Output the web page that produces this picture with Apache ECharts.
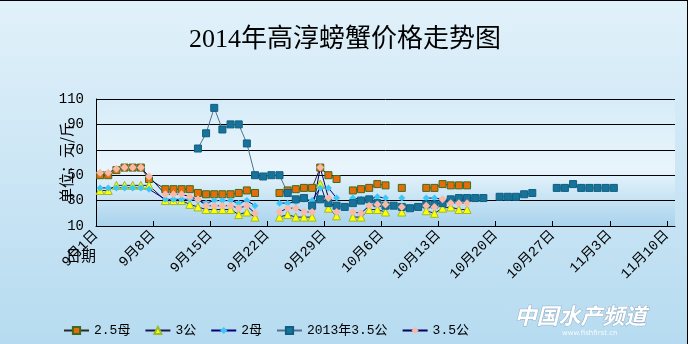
<!DOCTYPE html>
<html>
<head>
<meta charset="utf-8">
<script src="https://cdn.jsdelivr.net/npm/echarts@6/dist/echarts.min.js"></script>
<style>
  html, body { margin: 0; padding: 0; }
  body { width: 690px; height: 344px; background: linear-gradient(#e1f1fa, #b6dbf0); overflow: hidden; }
  #chart { width: 690px; height: 344px; }
</style>
</head>
<body>
<div id="chart"></div>
<script>
// Trading days (month-day, 2014). 9-8 has no row, so lines run straight across it.
const dates = [
  '9-1','9-2','9-3','9-4','9-5','9-6','9-7',
  '9-9','9-10','9-11','9-12','9-13','9-14','9-15','9-16','9-17','9-18','9-19','9-20',
  '9-21','9-22','9-23','9-24','9-25','9-26','9-27','9-28','9-29','9-30',
  '10-1','10-2','10-3','10-4','10-5','10-6','10-7','10-8','10-9','10-10',
  '10-11','10-12','10-13','10-14','10-15','10-16','10-17','10-18','10-19','10-20',
  '10-21','10-22','10-23','10-24','10-25','10-26','10-27','10-28','10-29','10-30','10-31',
  '11-1','11-2','11-3'
];

// Prices in 元/斤; null = no quote that day (line breaks)
const mother25 = [50,50,54,56,56,56,47,
  39,39,39,39,36,35,35,35,35,36,38,36,null,null,36,38,39,40,40,56,50,47,
  null,38,39,40,43,42,null,40,null,null,40,40,43,42,42,42,
  null,null,null,null,null,null,null,null,null,null,null,null,null,null,null,
  null,null,null];
const male3 = [38,38,42,42,42,42,42,
  30,30,30,27,25,23,23,23,23,19,21,17,null,null,17,19,17,17,17,43,24,18,
  null,17,17,23,23,21,null,21,null,null,22,20,24,25,23,23,
  null,null,null,null,null,null,null,null,null,null,null,null,null,null,null,
  null,null,null];
const mother2 = [40,40,40,40,40,40,39,
  31,31,31,31,30,28,30,30,30,28,30,26,null,null,28,28,29,31,30,40,40,32,
  null,32,31,31,33,32,null,32,null,null,32,32,31,31,31,31,
  null,null,null,null,null,null,null,null,null,null,null,null,null,null,null,
  null,null,null];
const male35y2013 = [null,null,null,null,null,null,null,
  null,null,null,null,71,83,103,86,90,90,75,50,49,50,50,36,31,32,26,31,28,26,
  25,28,30,31,28,26,26,25,24,25,27,27,28,31,32,32,32,32,null,33,33,33,35,36,null,null,40,40,43,40,40,
  40,40,40];
const male35 = [52,52,55,56,56,56,49,
  35,35,35,33,31,26,26,26,26,24,26,20,null,null,21,24,24,21,21,56,32,21,
  null,21,20,26,27,27,null,25,null,null,26,25,31,28,28,28,
  null,null,null,null,null,null,null,null,null,null,null,null,null,null,null,
  null,null,null];

const yTicks = { min: 10, max: 110, step: 20 };
const xDays = { span: 71, step: 7 };   // 9月1日 .. 11月11日, weekly ticks

const START = new Date(2014, 8, 1);
function dayOffset(md) {
  const [m, d] = md.split('-').map(Number);
  return Math.round((new Date(2014, m - 1, d) - START) / 86400000);
}
// each daily price sits in the middle of its day's slot on the date axis
const pairs = vals => dates.map((d, i) => [dayOffset(d) + 0.5, vals[i]]);
function dayLabel(v) {
  const t = new Date(2014, 8, 1 + v);
  return (t.getMonth() + 1) + '月' + t.getDate() + '日';
}

const songFont = '"Liberation Mono","Noto Sans CJK SC"';

function lineSeries(name, vals, symbol, size, fill, border, lineColor) {
  return {
    name, type: 'line', data: pairs(vals), symbol, symbolSize: size,
    showAllSymbol: true, connectNulls: false,
    lineStyle: { color: lineColor, width: 1 },
    itemStyle: { color: fill, borderColor: border || fill, borderWidth: border ? 1 : 0 },
    emphasis: { disabled: true }
  };
}

const chart = echarts.init(document.getElementById('chart'), null, { renderer: 'canvas' });
chart.setOption({
  animation: false,
  backgroundColor: 'transparent',
  title: {
    text: '2014年高淳螃蟹价格走势图',
    left: 'center', top: 22,
    textStyle: { fontFamily: '"Liberation Serif","Noto Sans CJK SC"', fontSize: 26, fontWeight: 'normal', color: '#000' }
  },
  grid: {
    left: 96, right: 15, top: 99, bottom: 118,
    show: true, borderWidth: 0,
    backgroundColor: {
      type: 'linear', x: 0, y: 0, x2: 0, y2: 1,
      colorStops: [
        { offset: 0, color: '#d6ecf8' },
        { offset: 0.55, color: '#e9f5fc' },
        { offset: 1, color: '#a9d3ed' }
      ]
    }
  },
  legend: {
    left: 58, top: 319, itemWidth: 25, itemHeight: 9, itemGap: 14,
    textStyle: { fontFamily: songFont, fontSize: 13, color: '#000' },
    data: ['2.5母', '3公', '2母', '2013年3.5公', '3.5公']
  },
  xAxis: {
    type: 'value', min: 0, max: xDays.span, interval: xDays.step,
    axisLine: { show: true, lineStyle: { color: '#000', width: 1 } },
    axisTick: { show: true, inside: true, length: 5, lineStyle: { color: '#000' } },
    splitLine: { show: false },
    axisLabel: {
      rotate: 45, margin: 7, fontSize: 14, color: '#000', fontFamily: songFont,
      showMaxLabel: false,
      formatter: v => (v % xDays.step === 0 ? dayLabel(v) : '')
    }
  },
  yAxis: {
    type: 'value', min: yTicks.min, max: yTicks.max, interval: yTicks.step,
    axisLine: { show: true, lineStyle: { color: '#000', width: 1 } },
    axisTick: { show: false },
    splitLine: { show: true, lineStyle: { color: '#000', width: 1 } },
    axisLabel: { margin: 12, fontSize: 14, color: '#000', fontFamily: songFont },
    name: '单位：元/斤', nameLocation: 'middle', nameGap: 22, nameRotate: 90,
    nameMoveOverlap: false,
    nameTextStyle: { fontSize: 15, color: '#000', fontFamily: '"Noto Sans CJK SC"' }
  },
  series: [
    lineSeries('2.5母', mother25, 'rect', 7, '#e46c0a', '#3f6a1c', '#2a2a2a'),
    lineSeries('3公', male3, 'triangle', 8, '#ffff00', '#9bbb30', '#1a1a50'),
    lineSeries('2母', mother2, 'diamond', 7, '#3cc8f4', null, '#000080'),
    lineSeries('2013年3.5公', male35y2013, 'rect', 7, '#17739a', '#0f5f80', '#56708c'),
    lineSeries('3.5公', male35, 'diamond', 8, '#f9b8a8', null, '#000060')
  ],
  graphic: [
    { type: 'line', shape: { x1: 0, y1: 0.5, x2: 688, y2: 0.5 }, style: { stroke: '#000', lineWidth: 1 }, silent: true },
    { type: 'rect', shape: { x: 688, y: 0, width: 2, height: 344 }, style: { fill: '#fff' }, silent: true },
    { type: 'line', shape: { x1: 687.5, y1: 0, x2: 687.5, y2: 344 }, style: { stroke: '#000', lineWidth: 1 }, silent: true },
    // x-axis caption, sitting under the axis origin
    {
      type: 'text', left: 66, top: 248, silent: true, z: 10,
      style: { text: '日期', fill: '#000', font: '15px "Noto Sans CJK SC"' }
    },
    {
      type: 'text', left: 514, top: 304, silent: true,
      style: {
        text: '中国水产频道', fill: '#ffffff',
        font: 'italic bold 22px "Noto Sans CJK SC"',
        stroke: 'rgba(120,140,160,0.6)', lineWidth: 1
      }
    },
    {
      type: 'text', left: 562, top: 330, silent: true,
      style: { text: 'www.fishfirst.cn', fill: 'rgba(255,255,255,0.9)', font: '7px "DejaVu Sans"' }
    }
  ]
});
</script>
</body>
</html>
